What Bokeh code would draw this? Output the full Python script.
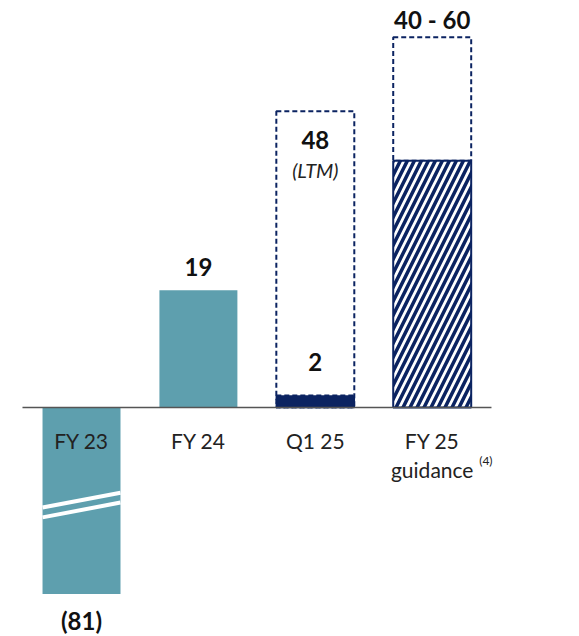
from bokeh.plotting import figure
from bokeh.models import Range1d, ColumnDataSource
from bokeh.core.properties import value
from bokeh.embed import file_html
from bokeh.resources import INLINE

# ---- data ----
categories = ["FY 23", "FY 24", "Q1 25", "FY 25"]
reported = [-81, 19, 2]            # FY23, FY24, Q1 25
ltm_q1 = 48                        # Q1 25 LTM
guidance_low = 40
guidance_high = 60
value_labels = ["(81)", "19", "2", "40 - 60"]

# ---- style ----
TEAL = "#5e9fae"
NAVY = "#0b2361"
FONT = value("Lato")
BREAK_FLOOR = -30.2   # visual floor of the broken FY23 bar
BAR_W = 0.667

p = figure(width=579, height=636, x_range=Range1d(-0.693, 4.26),
           y_range=Range1d(-37.1, 65.96), output_backend="svg",
           toolbar_location=None, x_axis_type=None, y_axis_type=None,
           min_border=0)
p.min_border_left = p.min_border_right = p.min_border_top = p.min_border_bottom = 0
p.grid.visible = False
p.outline_line_color = None
p.background_fill_color = "white"
p.border_fill_color = "white"

xs = list(range(len(categories)))

# dashed envelopes (Q1 LTM, FY25 guidance range)
p.vbar(x=[xs[2]], bottom=[0], top=[ltm_q1], width=BAR_W, fill_alpha=0,
       line_color=NAVY, line_width=2, line_dash="5 3")
p.vbar(x=[xs[3]], bottom=[guidance_low], top=[guidance_high], width=BAR_W,
       fill_alpha=0, line_color=NAVY, line_width=2, line_dash="5 3")

# teal bars (FY23 broken, FY24)
teal_src = ColumnDataSource(dict(x=xs[:2], top=[max(v, 0) for v in reported[:2]],
                                 bottom=[max(min(v, 0), BREAK_FLOOR) for v in reported[:2]]))
p.vbar(x="x", top="top", bottom="bottom", width=BAR_W, source=teal_src,
       fill_color=TEAL, line_color=None)

# break marks on FY23
half = BAR_W / 2
p.segment(x0=[xs[0] - half, xs[0] - half], y0=[-16.2, -17.8],
          x1=[xs[0] + half, xs[0] + half], y1=[-13.8, -15.4],
          line_color="white", line_width=4)

# Q1 25 solid bar
p.vbar(x=[xs[2]], bottom=[0], top=[reported[2]], width=BAR_W,
       fill_color=NAVY, line_color=NAVY, line_width=1.5, line_dash="5 3")

# FY25 hatched bar (low end of guidance)
p.vbar(x=[xs[3]], bottom=[0], top=[guidance_low], width=BAR_W,
       fill_color="white", hatch_pattern="/", hatch_color=NAVY,
       hatch_weight=3.5, hatch_scale=14, line_color=NAVY, line_width=2)

# baseline
p.segment(x0=[-0.505], y0=[0], x1=[3.507], y1=[0], line_color="#555555", line_width=1.5)

# value labels (screen offsets: positive = down)
label_y = [BREAK_FLOOR, reported[1], reported[2], guidance_high]
label_off = [27, -23, -33, -18]
for x, y, t, off in zip(xs, label_y, value_labels, label_off):
    p.text(x=[x], y=[y], text=[t], y_offset=off, text_font=FONT,
           text_font_style="bold", text_font_size="24px", text_color="#111111",
           text_align="center", text_baseline="middle")

p.text(x=[xs[2]], y=[ltm_q1], text=["48"], y_offset=29, text_font=FONT,
       text_font_style="bold", text_font_size="24px", text_color="#111111",
       text_align="center", text_baseline="middle")
p.text(x=[xs[2]], y=[ltm_q1], text=["(LTM)"], y_offset=59, text_font=FONT,
       text_font_style="italic", text_font_size="20px", text_color="#222222",
       text_align="center", text_baseline="middle")

# category labels
p.text(x=xs, y=[0] * 4, text=categories, y_offset=33, text_font=FONT,
       text_font_size="21px", text_color="#222222", text_align="center",
       text_baseline="middle")
p.text(x=[xs[3]], y=[0], text=["guidance"], y_offset=62, text_font=FONT,
       text_font_size="21px", text_color="#222222", text_align="center",
       text_baseline="middle")
p.text(x=[xs[3]], y=[0], text=["(4)"], x_offset=47, y_offset=53, text_font=FONT,
       text_font_size="12px", text_color="#222222", text_align="left",
       text_baseline="middle")

open("out.html", "w").write(file_html(p, INLINE))
